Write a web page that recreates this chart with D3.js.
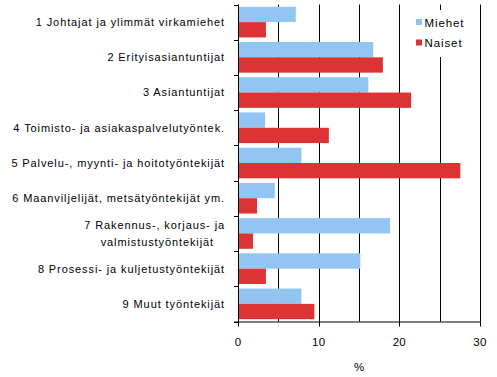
<!DOCTYPE html>
<html><head><meta charset="utf-8">
<script src="https://cdn.jsdelivr.net/npm/d3@7"></script>
<style>body{margin:0;background:#fff}svg{display:block}text{font-family:Arial,"Liberation Sans",sans-serif;fill:#000}</style>
</head><body><svg id="c" width="497" height="377"></svg>
<script>
const categories = [
  ["1 Johtajat ja ylimmät virkamiehet"],
  ["2 Erityisasiantuntijat"],
  ["3 Asiantuntijat"],
  ["4 Toimisto- ja asiakaspalvelutyöntek."],
  ["5 Palvelu-, myynti- ja hoitotyöntekijät"],
  ["6 Maanviljelijät, metsätyöntekijät ym."],
  ["7 Rakennus-,  korjaus- ja", "valmistustyöntekijät"],
  ["8 Prosessi- ja kuljetustyöntekijät"],
  ["9 Muut työntekijät"]
];
const seriesNames = ["Miehet", "Naiset"];
const miehet = [7.1, 16.7, 16.1, 3.3, 7.8, 4.5, 18.8, 15.1, 7.8];
const naiset = [3.4, 17.9, 21.4, 11.2, 27.5, 2.3, 1.8, 3.4, 9.4];
const xTicks = [0, 10, 20, 30];
const gridTicks = [5, 10, 15, 20, 25, 30];
const colors = ["#92c5f2", "#dc3434"];

const svg = d3.select("#c");
const L = 238, R = 480, T = 4.5, B = 321.5;
const x = d3.scaleLinear().domain([0, 30]).range([L, R]);
const y = d3.scaleBand().domain(d3.range(categories.length)).range([T, B]).paddingInner(0.13).paddingOuter(0.065);
const ys = d3.scaleBand().domain([0, 1]).range([0, y.bandwidth()]);

// gridlines
svg.append("g").selectAll("line").data(gridTicks).join("line")
  .attr("x1", d => Math.round(x(d)) + 0.5).attr("x2", d => Math.round(x(d)) + 0.5)
  .attr("y1", T).attr("y2", B).attr("stroke", "#000").attr("stroke-width", 1);

// bars
const data = [miehet, naiset];
const g = svg.append("g");
data.forEach((vals, s) => {
  g.selectAll(null).data(vals).join("rect")
    .attr("x", x(0) + 0.5)
    .attr("y", (d, i) => y(i) + ys(s))
    .attr("width", d => x(d) - x(0))
    .attr("height", ys.bandwidth())
    .attr("fill", colors[s]);
});

// legend
const lg = svg.append("g");
lg.append("rect").attr("x", 401).attr("y", 10).attr("width", 77).attr("height", 47).attr("fill", "#fff");
seriesNames.forEach((n, i) => {
  lg.append("rect").attr("x", 416).attr("y", 19 + i * 20.5).attr("width", 6).attr("height", 6).attr("fill", colors[i]);
  lg.append("text").attr("x", 424.5).attr("y", 22.5 + i * 20.5).attr("dy", "0.35em")
    .style("font-size", "11.5px").style("letter-spacing", "0.9px").text(n);
});

// left axis
svg.append("line").attr("x1", L + 0.5).attr("x2", L + 0.5).attr("y1", T).attr("y2", B + 0.5).attr("stroke", "#000");
const catTicks = d3.range(categories.length + 1).map(i => T + i * (B - T) / categories.length);
svg.append("g").selectAll("line").data(catTicks).join("line")
  .attr("x1", L - 4).attr("x2", L).attr("y1", d => Math.round(d) + 0.5).attr("y2", d => Math.round(d) + 0.5).attr("stroke", "#000");

// category labels
const lab = svg.append("g");
categories.forEach((lines, i) => {
  const cy = y(i) + y.bandwidth() / 2;
  const t = lab.append("text").attr("text-anchor", "end")
    .style("font-size", "11px").style("letter-spacing", "0.9px");
  lines.forEach((ln, j) => {
    t.append("tspan").attr("x", lines.length > 1 && j > 0 ? 214 : 225)
      .attr("y", cy + (j - (lines.length - 1) / 2) * 17).attr("dy", "0.35em").text(ln);
  });
});

// bottom axis
svg.append("line").attr("x1", L - 4).attr("x2", R + 0.5).attr("y1", B + 0.5).attr("y2", B + 0.5).attr("stroke", "#000");
svg.append("g").selectAll("line").data(xTicks).join("line")
  .attr("x1", d => Math.round(x(d)) + 0.5).attr("x2", d => Math.round(x(d)) + 0.5)
  .attr("y1", B).attr("y2", B + 5).attr("stroke", "#000");
svg.append("g").selectAll("text").data(xTicks).join("text")
  .attr("x", d => x(d)).attr("y", 342).attr("dy", "0.35em").attr("text-anchor", "middle")
  .style("font-size", "11.5px").style("letter-spacing", "0.3px").text(d => d);
svg.append("text").attr("x", 359).attr("y", 367).attr("dy", "0.35em").attr("text-anchor", "middle")
  .style("font-size", "11.5px").text("%");
</script></body></html>
